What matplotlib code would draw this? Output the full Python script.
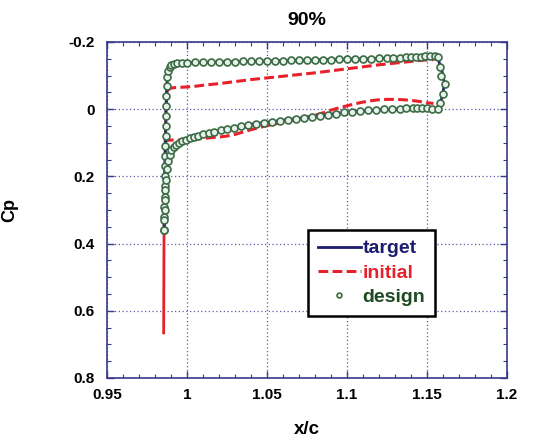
import matplotlib
matplotlib.use("Agg")
import matplotlib.pyplot as plt
from matplotlib.ticker import MultipleLocator

plt.rcParams['font.family'] = ['Liberation Sans', 'DejaVu Sans']
plt.rcParams['font.weight'] = 'bold'

# ---- data ----
# target pressure distribution (upper / lower surface, LE -> TE)
target_x_up = [0.9856, 0.9860, 0.9864, 0.9868, 0.9872, 0.9880, 0.9892, 0.9910, 0.995, 1.000,
               1.050, 1.100, 1.130, 1.150, 1.156, 1.159, 1.161, 1.159, 1.157]
target_cp_up = [0.36, 0.25, 0.12, 0.0, -0.07, -0.105, -0.125, -0.134, -0.137, -0.138,
                -0.143, -0.148, -0.152, -0.157, -0.160, -0.12, -0.075, -0.03, 0.0]
target_x_lo = [0.9856, 0.9862, 0.9868, 0.9878, 0.9892, 0.9912, 0.994, 0.998, 1.005, 1.020,
               1.040, 1.060, 1.080, 1.100, 1.120, 1.140, 1.157]
target_cp_lo = [0.36, 0.25, 0.19, 0.158, 0.134, 0.114, 0.102, 0.093, 0.083, 0.064,
                0.045, 0.033, 0.021, 0.009, 0.002, -0.002, 0.0]

# initial distribution
init_x_le = [0.9853, 0.9855, 0.9858, 0.9862, 0.9868, 0.9875]
init_cp_le = [0.67, 0.40, 0.20, 0.10, 0.0, -0.055]
init_x_up = [0.9875, 0.9895, 0.992, 0.996, 1.000, 1.005, 1.010, 1.020, 1.030, 1.040, 1.050,
             1.060, 1.070, 1.080, 1.090, 1.100, 1.110, 1.120, 1.130, 1.140, 1.148, 1.154]
init_cp_up = [-0.055, -0.062, -0.064, -0.065, -0.066, -0.068, -0.071, -0.076, -0.082, -0.088,
              -0.093, -0.098, -0.103, -0.108, -0.114, -0.120, -0.126, -0.132, -0.137, -0.142,
              -0.146, -0.147]
init_x_lo = [0.9862, 0.9872, 0.990, 0.995, 1.000, 1.005, 1.010, 1.015, 1.020, 1.025, 1.030,
             1.035, 1.040, 1.045, 1.050, 1.055, 1.060, 1.065, 1.070, 1.075, 1.080, 1.085,
             1.090, 1.095, 1.100, 1.105, 1.110, 1.115, 1.120, 1.125, 1.130, 1.135, 1.140,
             1.145, 1.150, 1.154]
init_cp_lo = [0.10, 0.093, 0.092, 0.092, 0.091, 0.089, 0.087, 0.085, 0.083, 0.080, 0.075,
              0.068, 0.061, 0.055, 0.049, 0.044, 0.039, 0.034, 0.029, 0.024, 0.018, 0.011,
              0.003, -0.004, -0.010, -0.016, -0.021, -0.025, -0.028, -0.029, -0.029, -0.028,
              -0.026, -0.023, -0.019, -0.017]

# design result (circles)
design_x_up = [0.9856, 0.9857, 0.9858, 0.9859, 0.9860, 0.9861, 0.9862, 0.9863, 0.9864, 0.9865,
               0.9866, 0.9867, 0.9868, 0.9870, 0.9872, 0.9876, 0.9882, 0.9890, 0.9900, 0.9915,
               0.9935, 0.9965, 1.000, 1.005, 1.010, 1.015, 1.020, 1.025, 1.030, 1.035, 1.040,
               1.045, 1.050, 1.055, 1.060, 1.065, 1.070, 1.075, 1.080, 1.085, 1.090, 1.095,
               1.100, 1.105, 1.110, 1.115, 1.120, 1.125, 1.129, 1.133, 1.137, 1.140, 1.143,
               1.146, 1.149, 1.152, 1.155, 1.157, 1.158, 1.159, 1.161, 1.160, 1.158]
design_cp_up = [0.36, 0.32, 0.29, 0.26, 0.23, 0.20, 0.17, 0.14, 0.11, 0.08,
                0.05, 0.02, -0.01, -0.04, -0.07, -0.095, -0.112, -0.124, -0.131, -0.135,
                -0.137, -0.138, -0.138, -0.139, -0.139, -0.140, -0.140, -0.141, -0.141, -0.142,
                -0.142, -0.143, -0.143, -0.144, -0.144, -0.145, -0.145, -0.146, -0.146, -0.147,
                -0.147, -0.148, -0.148, -0.149, -0.150, -0.150, -0.151, -0.152, -0.152, -0.153,
                -0.154, -0.155, -0.155, -0.156, -0.157, -0.158, -0.158, -0.155, -0.125, -0.100,
                -0.075, -0.045, -0.019]
design_x_lo = [0.9856, 0.9858, 0.9860, 0.9862, 0.9864, 0.9866, 0.9872, 0.9880, 0.9890, 0.9902,
               0.9916, 0.9932, 0.9950, 0.9970, 0.9990, 1.0015, 1.0040, 1.0070, 1.0100, 1.0135,
               1.0170, 1.0210, 1.0250, 1.0290, 1.0335, 1.038, 1.043, 1.048, 1.053, 1.058,
               1.063, 1.068, 1.073, 1.078, 1.083, 1.088, 1.093, 1.098, 1.103, 1.108, 1.113,
               1.118, 1.123, 1.128, 1.133, 1.137, 1.141, 1.144, 1.147, 1.150, 1.153, 1.157]
design_cp_lo = [0.36, 0.33, 0.30, 0.27, 0.24, 0.21, 0.178, 0.155, 0.137, 0.123,
                0.113, 0.106, 0.100, 0.095, 0.091, 0.087, 0.083, 0.079, 0.075, 0.071,
                0.067, 0.063, 0.059, 0.055, 0.051, 0.047, 0.043, 0.040, 0.037, 0.034,
                0.031, 0.028, 0.025, 0.022, 0.019, 0.016, 0.013, 0.010, 0.008, 0.006, 0.004,
                0.002, 0.001, 0.0, -0.001, -0.002, -0.002, -0.002, -0.002, -0.002, -0.001, 0.001]

navy = '#1c1c6e'
red = '#e8202a'
green = '#3d6b45'
axis_col = '#3a3a8c'

fig = plt.figure(figsize=(5.36, 4.46), dpi=100)
ax = fig.add_axes([0.2, 0.1525, 0.746, 0.7535])

# initial (red) - LE part looks solid in the original
ax.plot(init_x_le, init_cp_le, color=red, lw=2.0, solid_capstyle='butt', zorder=2)
l_init, = ax.plot(init_x_up, init_cp_up, color=red, lw=2.2, ls=(0, (3.2, 1.4)), zorder=2)
ax.plot(init_x_lo, init_cp_lo, color=red, lw=2.2, ls=(0, (3.2, 1.4)), zorder=2)

# target
l_targ, = ax.plot(target_x_up, target_cp_up, color=navy, lw=2.0, zorder=3)
ax.plot(target_x_lo, target_cp_lo, color=navy, lw=2.0, zorder=3)

# design
mk = dict(ls='none', marker='o', ms=5.0, mfc='#e8f2ec', mec=green, mew=1.2, zorder=4)
l_des, = ax.plot(design_x_up, design_cp_up, **mk)
ax.plot(design_x_lo, design_cp_lo, **mk)

ax.set_xlim(0.95, 1.2)
ax.set_ylim(0.8, -0.2)
ax.xaxis.set_major_locator(MultipleLocator(0.05))
ax.xaxis.set_minor_locator(MultipleLocator(0.01))
ax.yaxis.set_major_locator(MultipleLocator(0.2))
ax.yaxis.set_minor_locator(MultipleLocator(0.05))
ax.set_xticks([0.95, 1.0, 1.05, 1.1, 1.15, 1.2])
ax.set_xticklabels(['0.95', '1', '1.05', '1.1', '1.15', '1.2'])
ax.set_yticks([-0.2, 0, 0.2, 0.4, 0.6, 0.8])
ax.set_yticklabels(['-0.2', '0', '0.2', '0.4', '0.6', '0.8'])

ax.tick_params(which='both', direction='in', top=True, right=True, color=axis_col,
               labelsize=11, labelcolor='black')
ax.tick_params(which='major', length=5, width=1)
ax.tick_params(which='minor', length=3, width=0.8)
ax.tick_params(axis='x', pad=7)
ax.tick_params(axis='y', pad=9)
for s in ax.spines.values():
    s.set_color(axis_col)
    s.set_linewidth(1.2)
ax.grid(True, which='major', ls=(0, (1, 2)), color='#5a5aa8', lw=0.9)

ax.set_title('90%', fontsize=14, fontweight='bold', pad=12)
ax.set_xlabel('x/c', fontsize=13.5, fontweight='bold')
ax.set_ylabel('Cp', fontsize=13, fontweight='bold')
ax.xaxis.set_label_coords(0.5, -0.128)
ax.yaxis.set_label_coords(-0.222, 0.5)

leg = ax.legend([l_targ, l_init, l_des], ['target', 'initial', 'design'],
                loc='upper left', bbox_to_anchor=(0.5025, 0.44),
                prop={'weight': 'bold', 'size': 14}, handlelength=2.2, handletextpad=0.1,
                labelspacing=0.35, borderpad=0.5, borderaxespad=0, fancybox=False,
                framealpha=1, edgecolor='black', numpoints=1)
leg.get_frame().set_linewidth(1.8)
for t, c in zip(leg.get_texts(), [navy, red, '#1f4a22']):
    t.set_color(c)
leg.legend_handles[2].set_markersize(3.5)

fig.savefig('out.png', dpi=100)
